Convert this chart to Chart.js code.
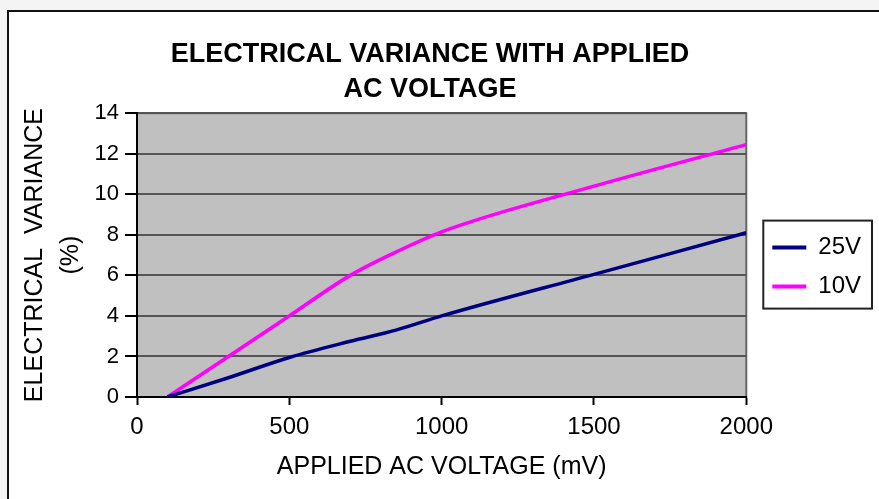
<!DOCTYPE html>
<html lang="en">
<head>
    <meta charset="UTF-8">
    <title>Electrical variance with applied AC voltage</title>
    <script src="https://cdn.jsdelivr.net/npm/chart.js@4.4.1/dist/chart.umd.min.js"></script>
    <style>
        html, body { margin: 0; padding: 0; width: 879px; height: 499px; overflow: hidden; background: #f4f4f4; }
        .frame { position: absolute; left: 7px; top: 10px; width: 900px; height: 520px; background: #fff; border: 2px solid #111; }
        .chart-box { position: absolute; left: 0; top: 0; width: 879px; height: 499px; }
    </style>
</head>
<body>
<div class="frame"></div>
<div class="chart-box">
    <canvas id="chart" width="879" height="499"></canvas>
</div>
<script>
    // values
    const voltage = [100, 300, 500, 700, 850, 1000, 1500, 2000]   // mV
    const var25V = [0, 0.95, 1.95, 2.75, 3.3, 4.0, 6.05, 8.1]      // %
    const var10V = [0, 2.0, 4.0, 6.0, 7.15, 8.15, 10.4, 12.45]     // %
    const seriesNames = ['25V', '10V']
    const seriesColors = ['#000080', '#ff00ff']
    const xTicks = [0, 500, 1000, 1500, 2000]
    const yTicks = [0, 2, 4, 6, 8, 10, 12, 14]

    const FONT = '"Liberation Sans", Arial, Helvetica, sans-serif'
    const LEGEND_FONT = {family: FONT, size: 24}

    function toPoints(ys) {
        return voltage.map((v, i) => ({x: v, y: ys[i]}))
    }

    // grey plot background with a thin frame
    const plotBackground = {
        id: 'plotBackground',
        beforeDraw(chart) {
            const {ctx, chartArea: a} = chart
            ctx.save()
            ctx.fillStyle = '#c0c0c0'
            ctx.fillRect(a.left, a.top, a.right - a.left, a.bottom - a.top)
            ctx.strokeStyle = '#666'
            ctx.lineWidth = 2
            ctx.strokeRect(a.left, a.top, a.right - a.left, a.bottom - a.top)
            ctx.restore()
        }
    }

    // nudge the legend a bit off the plot and draw a box round it
    const legendBox = {
        id: 'legendBox',
        afterLayout(chart) {
            const lg = chart.legend
            lg.left += 11; lg.right += 11
            lg.top += 12; lg.bottom += 12
        },
        afterDraw(chart) {
            const lg = chart.legend
            if (!lg || !lg.legendHitBoxes.length) return
            const {ctx} = chart
            ctx.save()
            ctx.font = `${LEGEND_FONT.size}px ${FONT}`
            const opts = lg.options.labels
            let l = Infinity, t = Infinity, r = -Infinity, b = -Infinity
            lg.legendHitBoxes.forEach((h, i) => {
                const textW = ctx.measureText(lg.legendItems[i].text).width
                l = Math.min(l, h.left); t = Math.min(t, h.top)
                r = Math.max(r, h.left + opts.boxWidth + LEGEND_FONT.size / 2 + textW)
                b = Math.max(b, h.top + h.height)
            })
            ctx.strokeStyle = '#222'
            ctx.lineWidth = 2
            ctx.strokeRect(l - 9, t - 15, r - l + 20, b - t + 25)
            ctx.restore()
        }
    }

    new Chart(document.getElementById('chart'), {
        type: 'line',
        data: {
            datasets: [
                {
                    label: seriesNames[0],
                    data: toPoints(var25V),
                    borderColor: seriesColors[0],
                    backgroundColor: seriesColors[0],
                    borderWidth: 3.5,
                    pointRadius: 0,
                    cubicInterpolationMode: 'monotone',
                },
                {
                    label: seriesNames[1],
                    data: toPoints(var10V),
                    borderColor: seriesColors[1],
                    backgroundColor: seriesColors[1],
                    borderWidth: 3.5,
                    pointRadius: 0,
                    cubicInterpolationMode: 'monotone',
                },
            ],
        },
        options: {
            responsive: false,
            animation: false,
            layout: {padding: {left: 0, right: 19, top: 0, bottom: 0}},
            plugins: {
                title: {
                    display: true,
                    text: ['ELECTRICAL VARIANCE WITH APPLIED', 'AC VOLTAGE'],
                    color: '#000',
                    font: {family: FONT, size: 27, weight: 'bold', lineHeight: 1.3},
                    padding: {top: 37, bottom: 6},
                },
                legend: {
                    position: 'right',
                    fullSize: false,
                    labels: {
                        color: '#000',
                        font: LEGEND_FONT,
                        boxWidth: 34,
                        boxHeight: 4,
                        padding: 15,
                        generateLabels: chart => chart.data.datasets.map((ds, i) => ({
                            text: ds.label,
                            fillStyle: ds.borderColor,
                            strokeStyle: ds.borderColor,
                            lineWidth: 0,
                            datasetIndex: i,
                        })),
                    },
                },
                tooltip: {enabled: false},
            },
            scales: {
                x: {
                    type: 'linear',
                    min: 0,
                    max: 2000,
                    afterFit: scale => { scale.height = 102 },
                    afterBuildTicks: scale => { scale.ticks = xTicks.map(v => ({value: v})) },
                    grid: {drawOnChartArea: false, tickLength: 8, tickColor: '#000', tickWidth: 2},
                    border: {color: '#000', width: 2},
                    ticks: {
                        color: '#000',
                        font: {family: FONT, size: 24},
                        padding: 8,
                        maxRotation: 0,
                        callback: v => String(v),
                    },
                    title: {
                        display: true,
                        text: 'APPLIED AC VOLTAGE (mV)',
                        color: '#000',
                        font: {family: FONT, size: 25},
                        padding: {top: 0, bottom: 17},
                    },
                },
                y: {
                    min: 0,
                    max: 14,
                    afterFit: scale => { scale.width = 137 },
                    afterBuildTicks: scale => { scale.ticks = yTicks.map(v => ({value: v})) },
                    grid: {color: '#555', lineWidth: 2, tickLength: 12, tickColor: '#000', tickWidth: 2},
                    border: {color: '#000', width: 2},
                    ticks: {color: '#000', font: {family: FONT, size: 22}, padding: 6, callback: v => String(v)},
                    title: {
                        display: true,
                        text: ['ELECTRICAL  VARIANCE', '(%)'],
                        color: '#000',
                        font: {family: FONT, size: 25, lineHeight: 1.44},
                        padding: {top: 17, bottom: 0},
                    },
                },
            },
        },
        plugins: [plotBackground, legendBox],
    })
</script>
</body>
</html>
